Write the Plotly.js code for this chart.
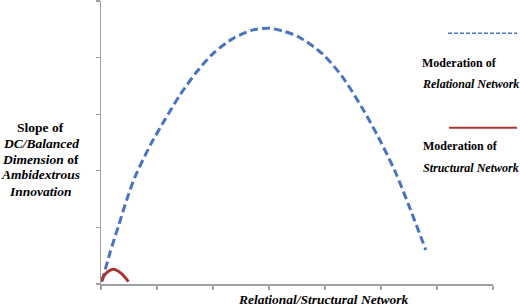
<!DOCTYPE html>
<html>
<head>
<meta charset="utf-8">
<script src="https://cdn.plot.ly/plotly-3.0.1.min.js"></script>
<style>html,body{margin:0;padding:0;background:#fff;}#chart{width:520px;height:308px;}</style>
</head>
<body>
<div id="chart"></div>
<script>
// Data (x in tick units 0..7, y in tick units 0..5)
const relationalX = [0.02, 0.16, 0.31, 0.46, 0.61, 0.90, 1.14, 1.41, 1.71, 2.00, 2.36, 2.72, 3.00, 3.28, 3.54, 3.95, 4.31, 4.67, 4.96, 5.26, 5.50, 5.80];
const relationalY = [0.05, 0.55, 1.02, 1.49, 1.90, 2.49, 2.90, 3.34, 3.75, 4.07, 4.34, 4.49, 4.52, 4.46, 4.36, 4.07, 3.66, 3.10, 2.58, 1.97, 1.38, 0.60];
const structuralX = [0.00, 0.07, 0.22, 0.37, 0.49];
const structuralY = [0.04, 0.17, 0.26, 0.18, 0.04];
const xTickVals = [0, 1, 2, 3, 4, 5, 6, 7];
const yTickVals = [0, 1, 2, 3, 4, 5];
const yTitleLines = ["<b>Slope of</b>", "<b><i>DC/Balanced</i></b>", "<b><i>Dimension</i> of</b>", "<b><i>Ambidextrous</i></b>", "<b><i>Innovation</i></b>"];
const xTitle = "<b><i>Relational/Structural Network</i></b>";
const legendTexts = [["<b>Moderation of</b>", "<b><i>Relational Network</i></b>"], ["<b>Moderation of</b>", "<b><i>Structural Network</i></b>"]];

const serif = "Liberation Serif, Times New Roman, serif";
const blue = "#4a74c0";
const red = "#a8352f";
const axisColor = "#a0a0a0";

const traces = [
  {x: relationalX, y: relationalY, mode: "lines", line: {color: blue, width: 3, dash: "8px,4px", shape: "spline", smoothing: 0.8}, hoverinfo: "skip"},
  {x: structuralX, y: structuralY, mode: "lines", line: {color: red, width: 3, shape: "spline", smoothing: 1}, hoverinfo: "skip"}
];

const px = v => (v - 101) / 392;
const py = v => (284 - v) / 283;

const annotations = [];
const yLineCenters = [127, 143, 159, 175, 191];
yTitleLines.forEach((t, i) => annotations.push({
  text: t, xref: "paper", yref: "paper", x: px(40.5), y: py(yLineCenters[i]),
  xanchor: "center", yanchor: "middle", showarrow: false,
  font: {family: serif, size: 13.5, color: "#000"}
}));
annotations.push({
  text: xTitle, xref: "paper", yref: "paper", x: px(323), y: py(299),
  xanchor: "center", yanchor: "middle", showarrow: false,
  font: {family: serif, size: 13.5, color: "#000"}
});
const legTextY = [[62.5, 84], [146, 167.5]];
const legTextX = [420, 421];
legendTexts.forEach((pair, k) => pair.forEach((t, j) => annotations.push({
  text: t, xref: "paper", yref: "paper", x: px(legTextX[k]), y: py(legTextY[k][j]),
  xanchor: "left", yanchor: "middle", showarrow: false,
  font: {family: serif, size: 12, color: "#000"}
})));

const shapes = [
  {type: "line", xref: "paper", yref: "paper", x0: px(448), x1: px(517), y0: py(33.3), y1: py(33.3), line: {color: blue, width: 1.6, dash: "4px,2px"}},
  {type: "line", xref: "paper", yref: "paper", x0: px(449), x1: px(517), y0: py(127.7), y1: py(127.7), line: {color: red, width: 2}}
];

const layout = {
  width: 520, height: 308,
  margin: {l: 101, r: 27, t: 1, b: 24, pad: 0},
  paper_bgcolor: "#ffffff", plot_bgcolor: "#ffffff",
  showlegend: false,
  xaxis: {range: [0, 7], tickvals: xTickVals, showticklabels: false, ticks: "outside", ticklen: 4, tickwidth: 1.2, tickcolor: axisColor,
          showgrid: false, zeroline: false, showline: true, linecolor: axisColor, linewidth: 1.5, fixedrange: true},
  yaxis: {range: [0, 5], tickvals: yTickVals, showticklabels: false, ticks: "outside", ticklen: 4, tickwidth: 1.2, tickcolor: axisColor,
          showgrid: false, zeroline: false, showline: true, linecolor: axisColor, linewidth: 1.5, fixedrange: true},
  annotations: annotations,
  shapes: shapes
};

Plotly.newPlot("chart", traces, layout, {displayModeBar: false, staticPlot: true});
</script>
</body>
</html>
